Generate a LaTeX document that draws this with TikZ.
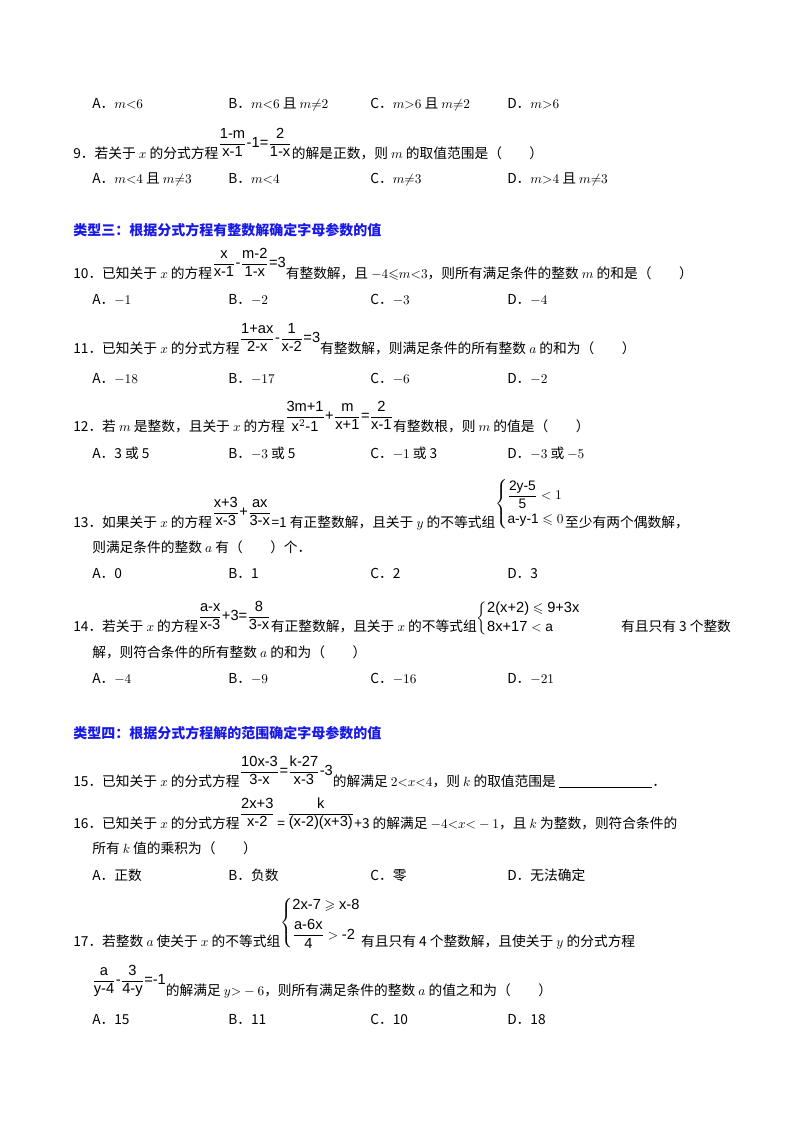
\documentclass[tikz,border=0pt]{standalone}
\usepackage{amsmath,amssymb}
\usepackage{fontspec}
\setmainfont{Noto Sans CJK SC}
\newfontfamily\ff{Liberation Sans}
\newcommand{\fr}[2]{\raisebox{1.4ex}{$\dfrac{\hbox{\ff\fontsize{11}{13}\selectfont #1}}{\hbox{\ff\fontsize{11}{13}\selectfont #2}}$}}
\newcommand{\fo}[1]{\raisebox{1.4ex}{\ff\fontsize{11}{13}\selectfont #1}}
\definecolor{hblue}{RGB}{25,25,230}
\begin{document}
\begin{tikzpicture}[x=0.75pt,y=-0.75pt,
  every node/.style={anchor=base west,inner sep=0pt,font=\fontsize{10.3}{12}\selectfont},
  head/.style={font=\fontsize{10.5}{12}\selectfont\bfseries,text=hblue}]
\useasboundingbox[fill=white] (0,0) rectangle (800,1132);
% options line 8
\node (o8a) at (92,108) {A．$m{<}6$};
\node (o8b) at (228,108) {B．$m{<}6$ 且 $m{\neq}2$};
\node (o8c) at (370,108) {C．$m{>}6$ 且 $m{\neq}2$};
\node (o8d) at (507,108) {D．$m{>}6$};
% Q9
\node (q9) at (73,158) {9．若关于 $x$ 的分式方程\fr{1-m}{x-1}\fo{-1=}\fr{2}{1-x}的解是正数，则 $m$ 的取值范围是（\qquad）};
\node (o9a) at (92,183) {A．$m{<}4$ 且 $m{\neq}3$};
\node (o9b) at (228,183) {B．$m{<}4$};
\node (o9c) at (370,183) {C．$m{\neq}3$};
\node (o9d) at (507,183) {D．$m{>}4$ 且 $m{\neq}3$};
\node[head] (h3) at (73,235) {类型三：根据分式方程有整数解确定字母参数的值};
% Q10
\node (q10) at (73,278) {10．已知关于 $x$ 的方程\fr{x}{x-1}\fo{-}\fr{m-2}{1-x}\fo{=3}有整数解，且 $-4{\leqslant}m{<}3$，则所有满足条件的整数 $m$ 的和是（\qquad）};
\node (o10a) at (92,304) {A．$-1$};
\node (o10b) at (228,304) {B．$-2$};
\node (o10c) at (370,304) {C．$-3$};
\node (o10d) at (507,304) {D．$-4$};
% Q11
\node (q11) at (73,353) {11．已知关于 $x$ 的分式方程\fr{1+ax}{2-x}\fo{-}\fr{1}{x-2}\fo{=3}有整数解，则满足条件的所有整数 $a$ 的和为（\qquad）};
\node (o11a) at (92,383) {A．$-18$};
\node (o11b) at (228,383) {B．$-17$};
\node (o11c) at (370,383) {C．$-6$};
\node (o11d) at (507,383) {D．$-2$};
% Q12
\node (q12) at (73,431) {12．若 $m$ 是整数，且关于 $x$ 的方程\fr{3m+1}{x$^2$-1}\fo{+}\fr{m}{x+1}\fo{=}\fr{2}{x-1}有整数根，则 $m$ 的值是（\qquad）};
\node (o12a) at (92,458) {A．3 或 5};
\node (o12b) at (228,458) {B．$-3$ 或 5};
\node (o12c) at (370,458) {C．$-1$ 或 3};
\node (o12d) at (507,458) {D．$-3$ 或 $-5$};
% Q13
\node (q13) at (73,527) {13．如果关于 $x$ 的方程\fr{x+3}{x-3}\fo{+}\fr{ax}{3-x}=1 有正整数解，且关于 $y$ 的不等式组\raisebox{2.6ex}{$\left\{\begin{array}{@{}l@{}}\dfrac{\hbox{\ff 2y-5}}{\hbox{\ff 5}}<1\\[6pt] \hbox{\ff a-y-1}\leqslant 0\end{array}\right.$}至少有两个偶数解，};
\node (q13b) at (92,552) {则满足条件的整数 $a$ 有（\qquad）个．};
\node (o13a) at (92,578) {A．0};
\node (o13b) at (228,578) {B．1};
\node (o13c) at (370,578) {C．2};
\node (o13d) at (507,578) {D．3};
% Q14
\node (q14) at (73,631) {14．若关于 $x$ 的方程\fr{a-x}{x-3}\fo{+3=}\fr{8}{3-x}有正整数解，且关于 $x$ 的不等式组\raisebox{1.2ex}{$\left\{\begin{array}{@{}l@{}}\hbox{\ff\fontsize{11}{13}\selectfont 2(x+2)}\leqslant\hbox{\ff\fontsize{11}{13}\selectfont 9+3x}\\[2pt] \hbox{\ff\fontsize{11}{13}\selectfont 8x+17}<\hbox{\ff a}\end{array}\right.$}\hspace{30pt}有且只有 3 个整数};
\node (q14b) at (92,657) {解，则符合条件的所有整数 $a$ 的和为（\qquad）};
\node (o14a) at (92,683) {A．$-4$};
\node (o14b) at (228,683) {B．$-9$};
\node (o14c) at (370,683) {C．$-16$};
\node (o14d) at (507,683) {D．$-21$};
\node[head] (h4) at (73,738) {类型四：根据分式方程解的范围确定字母参数的值};
% Q15
\node (q15) at (73,786) {15．已知关于 $x$ 的分式方程\fr{10x-3}{3-x}\fo{=}\fr{k-27}{x-3}\fo{-3}的解满足 $2{<}x{<}4$，则 $k$ 的取值范围是\ \rule[-1pt]{70pt}{0.5pt}．};
% Q16
\node (q16) at (73,828) {16．已知关于 $x$ 的分式方程\fr{2x+3}{x-2}\,=\,\fr{k}{(x-2)(x+3)}+3 的解满足 $-4{<}x{<}-1$，且 $k$ 为整数，则符合条件的};
\node (q16b) at (92,853) {所有 $k$ 值的乘积为（\qquad）};
\node (o16a) at (92,880) {A．正数};
\node (o16b) at (228,880) {B．负数};
\node (o16c) at (370,880) {C．零};
\node (o16d) at (507,880) {D．无法确定};
% Q17
\node (q17) at (73,946) {17．若整数 $a$ 使关于 $x$ 的不等式组\raisebox{2.6ex}{$\left\{\begin{array}{@{}l@{}}\hbox{\ff\fontsize{11}{13}\selectfont 2x-7}\geqslant\hbox{\ff\fontsize{11}{13}\selectfont x-8}\\[4pt] \dfrac{\hbox{\ff\fontsize{11}{13}\selectfont a-6x}}{\hbox{\ff\fontsize{11}{13}\selectfont 4}}>\hbox{\ff\fontsize{11}{13}\selectfont -2}\end{array}\right.$}有且只有 4 个整数解，且使关于 $y$ 的分式方程};
\node (q17b) at (92,995) {\fr{a}{y-4}\fo{-}\fr{3}{4-y}\fo{=-1}的解满足 $y{>}-6$，则所有满足条件的整数 $a$ 的值之和为（\qquad）};
\node (o17a) at (92,1024) {A．15};
\node (o17b) at (228,1024) {B．11};
\node (o17c) at (370,1024) {C．10};
\node (o17d) at (507,1024) {D．18};
\end{tikzpicture}
\end{document}
